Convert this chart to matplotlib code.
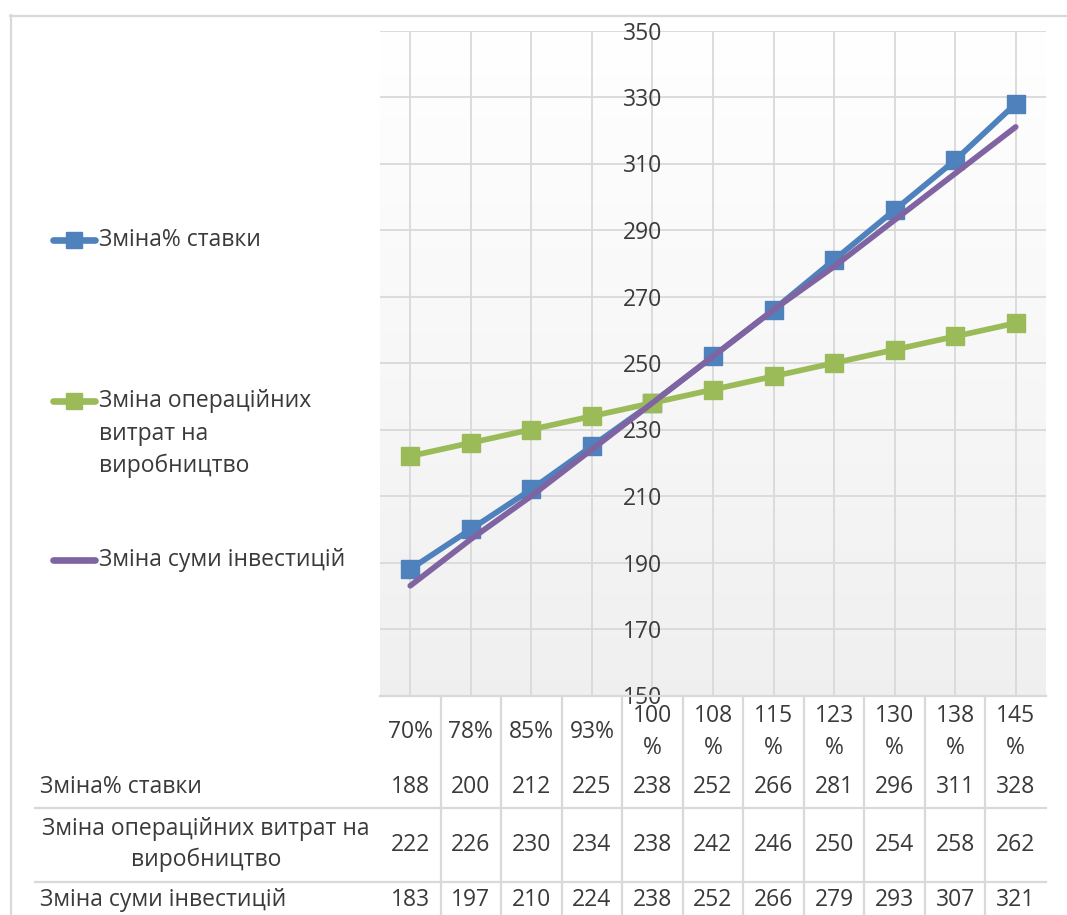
import numpy as np
import matplotlib
matplotlib.use("Agg")
import matplotlib.pyplot as plt
import matplotlib.transforms as mtransforms
from matplotlib.lines import Line2D

# --- data ---
categories = ["70%", "78%", "85%", "93%", "100%", "108%", "115%",
              "123%", "130%", "138%", "145%"]
rate_change = [188, 200, 212, 225, 238, 252, 266, 281, 296, 311, 328]
opex_change = [222, 226, 230, 234, 238, 242, 246, 250, 254, 258, 262]
invest_change = [183, 197, 210, 224, 238, 252, 266, 279, 293, 307, 321]
name_rate = "Зміна% ставки"
name_opex = "Зміна операційних витрат на виробництво"
name_invest = "Зміна суми інвестицій"
y_ticks = list(range(150, 351, 20))

# --- style ---
plt.rcParams["font.family"] = ["Open Sans", "DejaVu Sans"]
TEXT = "#3a3a3a"
GRID = "#d9d9d9"
C_RATE = "#4f81bd"
C_OPEX = "#9bbb59"
C_INV = "#8064a2"
FS = 16.5

W, H = 1067, 915
fig = plt.figure(figsize=(W / 100, H / 100), dpi=100)
fig.patch.set_facecolor("white")


def fx(px):
    return px / W


def fy(py):
    return 1 - py / H


# outer chart border (top and left edges visible)
fig.add_artist(Line2D([fx(10), 1.0], [fy(15.5), fy(15.5)], color=GRID, lw=1.6))
fig.add_artist(Line2D([fx(10.5), fx(10.5)], [fy(15), 0.0], color=GRID, lw=1.6))

PLOT_L, PLOT_R, PLOT_T, PLOT_B = 380, 1046, 30.5, 695.5
ax = fig.add_axes([fx(PLOT_L), fy(PLOT_B), fx(PLOT_R) - fx(PLOT_L), fy(PLOT_T) - fy(PLOT_B)])
x = np.arange(len(categories))
ax.set_xlim(-0.5, len(categories) - 0.5)
ax.set_ylim(y_ticks[0], y_ticks[-1])

# soft vertical gradient in the plot area
grad = np.linspace(0.94, 1.0, 256)[:, None]
rgb = np.dstack([grad, grad, grad])
ax.imshow(rgb, extent=(-0.5, len(categories) - 0.5, y_ticks[0], y_ticks[-1]),
          aspect="auto", origin="lower", zorder=0, interpolation="bilinear")

ax.set_xticks(x)
ax.set_yticks(y_ticks)
ax.grid(True, color=GRID, lw=1.3, zorder=1)
ax.set_axisbelow(True)
ax.tick_params(axis="x", length=0, labelbottom=False)
ax.tick_params(axis="y", length=0, pad=-7, labelsize=FS, labelcolor=TEXT)
ax.spines["left"].set_position(("data", 4))
for s in ["left", "right", "top"]:
    ax.spines[s].set_visible(False)
ax.spines["bottom"].set_color(GRID)
ax.spines["bottom"].set_linewidth(1.6)

ax.plot(x, rate_change, color=C_RATE, lw=4.1, marker="s", ms=12.5,
        zorder=3, solid_capstyle="round")
ax.plot(x, opex_change, color=C_OPEX, lw=4.1, marker="s", ms=12.5,
        zorder=4, solid_capstyle="round")
ax.plot(x, invest_change, color=C_INV, lw=4.1, zorder=5, solid_capstyle="round")

# --- legend on the left ---
def legend_entry(py, color, marker):
    fig.add_artist(Line2D([fx(53), fx(95)], [fy(py), fy(py)], color=color, lw=4.8,
                          solid_capstyle="round"))
    if marker:
        fig.add_artist(Line2D([fx(74)], [fy(py)], color=color, marker="s", ms=11.5, lw=0))


legend_entry(240, C_RATE, True)
fig.text(fx(99), fy(240), name_rate, fontsize=FS, color=TEXT, va="center", ha="left")
legend_entry(401, C_OPEX, True)
for i, line in enumerate(["Зміна операційних", "витрат на", "виробництво"]):
    fig.text(fx(99), fy(401 + 32.5 * i), line, fontsize=FS, color=TEXT, va="center", ha="left")
legend_entry(560, C_INV, False)
fig.text(fx(99), fy(560), name_invest, fontsize=FS, color=TEXT, va="center", ha="left")

# --- data table under the plot ---
tr = mtransforms.blended_transform_factory(ax.transData, fig.transFigure)

for b in np.arange(0.5, len(categories) - 1, 1.0):
    fig.add_artist(Line2D([b, b], [fy(PLOT_B), 0.0], color=GRID, lw=1.6, transform=tr))
for py in (808, 882):
    fig.add_artist(Line2D([fx(35), fx(PLOT_R)], [fy(py), fy(py)], color=GRID, lw=1.6))

for i, cat in enumerate(categories):
    if len(cat) > 3:
        fig.text(i, fy(716), cat[:-1], transform=tr, fontsize=FS, color=TEXT,
                 ha="center", va="center")
        fig.text(i, fy(748), "%", transform=tr, fontsize=FS, color=TEXT,
                 ha="center", va="center")
    else:
        fig.text(i, fy(732), cat, transform=tr, fontsize=FS, color=TEXT,
                 ha="center", va="center")

for values, py in ((rate_change, 787), (opex_change, 845), (invest_change, 900)):
    for i, v in enumerate(values):
        fig.text(i, fy(py), str(v), transform=tr, fontsize=FS, color=TEXT,
                 ha="center", va="center")

fig.text(fx(40), fy(787), name_rate, fontsize=FS, color=TEXT, ha="left", va="center")
fig.text(fx(206), fy(829), "Зміна операційних витрат на", fontsize=FS, color=TEXT,
         ha="center", va="center")
fig.text(fx(206), fy(860), "виробництво", fontsize=FS, color=TEXT, ha="center", va="center")
fig.text(fx(40), fy(900), name_invest, fontsize=FS, color=TEXT, ha="left", va="center")

fig.savefig("out.png", dpi=100)
